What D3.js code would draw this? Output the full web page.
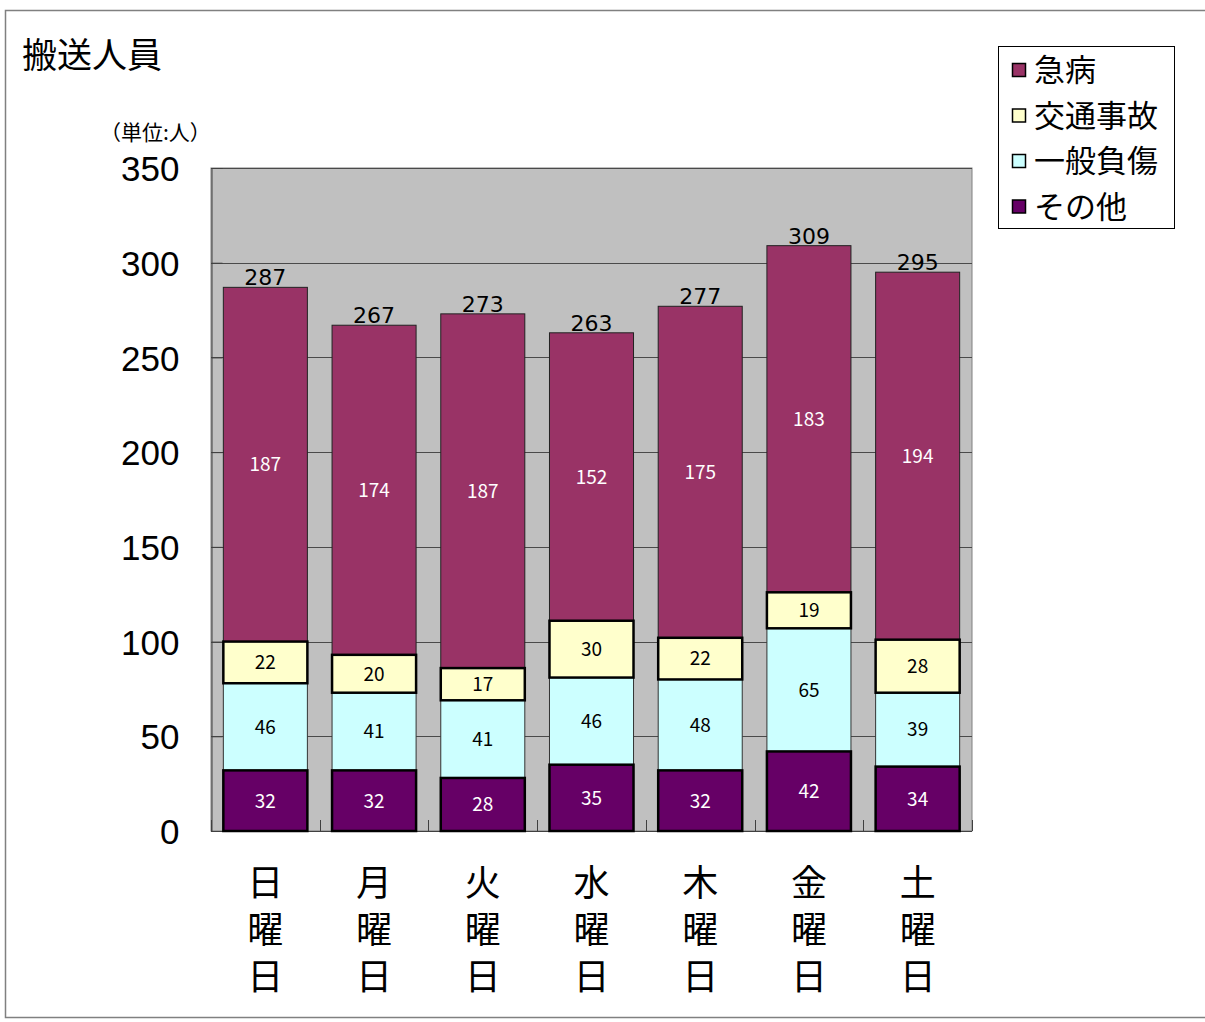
<!DOCTYPE html>
<html><head><meta charset="utf-8">
<script src="https://cdn.jsdelivr.net/npm/d3@7"></script>
<style>body{margin:0;background:#fff}svg{display:block}</style>
</head><body>
<script>
const days = ["日曜日","月曜日","火曜日","水曜日","木曜日","金曜日","土曜日"];
const sonota = [32,32,28,35,32,42,34];
const ippan = [46,41,41,46,48,65,39];
const kotsu = [22,20,17,30,22,19,28];
const kyubyo = [187,174,187,152,175,183,194];
const yTicks = [0,50,100,150,200,250,300,350];
const seriesNames = ["急病","交通事故","一般負傷","その他"];

const W=1205,H=1022;
const svg=d3.select("body").append("svg").attr("width",W).attr("height",H);
svg.append("rect").attr("x",5.5).attr("y",10.5).attr("width",1210).attr("height",1007).attr("fill","#fff").attr("stroke","#808080").attr("stroke-width",1.5);

const x=d3.scaleBand().domain(days).range([211,972]).paddingInner(0.227).paddingOuter(0.1135);
const y=d3.scaleLinear().domain([0,350]).range([831,168]);

svg.append("rect").attr("x",211).attr("y",168).attr("width",761).attr("height",663).attr("fill","#C0C0C0").attr("stroke","#808080");

// gridlines
svg.append("g").selectAll("line").data(yTicks.filter(d=>d>0)).join("line")
 .attr("x1",211).attr("x2",972).attr("y1",d=>Math.round(y(d))+0.5).attr("y2",d=>Math.round(y(d))+0.5)
 .attr("stroke","#4a4a4a").attr("stroke-width",1);

// y axis
const ya=svg.append("g").attr("transform","translate(211.5,0)").call(d3.axisLeft(y).tickValues(yTicks).tickSize(-11).tickPadding(32));
ya.select(".domain").attr("stroke","#404040");
ya.selectAll(".tick line").attr("stroke","#404040");
ya.selectAll("text").attr("font-family","Liberation Sans, Arial, sans-serif").attr("font-size",35).attr("fill","#000").attr("dy","0.36em");

// x axis baseline and ticks
svg.append("line").attr("x1",211).attr("x2",972).attr("y1",831.5).attr("y2",831.5).attr("stroke","#404040");
const bounds=days.map((d,i)=>x(d)-x.step()*x.paddingInner()/2).concat([972]);
svg.append("g").selectAll("line").data(bounds).join("line")
 .attr("x1",d=>Math.round(d)+0.5).attr("x2",d=>Math.round(d)+0.5).attr("y1",820).attr("y2",831)
 .attr("stroke","#404040");

const data=days.map((d,i)=>({day:d,s:sonota[i],p:ippan[i],k:kotsu[i],q:kyubyo[i]}));
const g=svg.append("g");
const segs=[
 {key:"q",base:d=>d.s+d.p+d.k,fill:"#993366",stroke:"#222",sw:1,tc:"#fff"},
 {key:"p",base:d=>d.s,fill:"#CCFFFF",stroke:"#333",sw:1,tc:"#000"},
 {key:"s",base:d=>0,fill:"#660066",stroke:"#000",sw:2.5,tc:"#fff"},
 {key:"k",base:d=>d.s+d.p,fill:"#FFFFCC",stroke:"#000",sw:2.5,tc:"#000"},
];
segs.forEach(sg=>{
 g.append("g").selectAll("rect").data(data).join("rect")
  .attr("x",d=>x(d.day)).attr("width",x.bandwidth())
  .attr("y",d=>y(sg.base(d)+d[sg.key])).attr("height",d=>y(sg.base(d))-y(sg.base(d)+d[sg.key]))
  .attr("fill",sg.fill).attr("stroke",sg.stroke).attr("stroke-width",sg.sw);
});
segs.forEach(sg=>{
 g.append("g").selectAll("text").data(data).join("text")
  .attr("x",d=>x(d.day)+x.bandwidth()/2)
  .attr("y",d=>(y(sg.base(d))+y(sg.base(d)+d[sg.key]))/2)
  .attr("dy","0.36em").attr("text-anchor","middle")
  .attr("font-family","'Noto Sans CJK JP', sans-serif").attr("font-size",19)
  .attr("fill",sg.tc).text(d=>d[sg.key]);
});
// totals
g.append("g").selectAll("text").data(data).join("text")
 .attr("x",d=>x(d.day)+x.bandwidth()/2)
 .attr("y",d=>y(d.s+d.p+d.k+d.q)-2)
 .attr("text-anchor","middle").attr("font-family","DejaVu Sans, sans-serif").attr("font-size",22)
 .attr("fill","#000").text(d=>d.s+d.p+d.k+d.q);

// x labels vertical
const xl=svg.append("g").selectAll("text").data(days).join("text")
 .attr("x",d=>x(d)+x.bandwidth()/2).attr("text-anchor","middle")
 .attr("font-family","'Noto Sans CJK JP', sans-serif").attr("font-size",36).attr("fill","#000");
xl.each(function(d){
 const t=d3.select(this);
 [...d].forEach((c,i)=>t.append("tspan").attr("x",x(d)+x.bandwidth()/2).attr("y",896+i*47).text(c));
});

// title
svg.append("text").attr("x",22).attr("y",68).attr("font-family","'Noto Sans CJK JP', sans-serif").attr("font-size",35).text("搬送人員");
svg.append("text").attr("x",100).attr("y",140).attr("font-family","'Noto Sans CJK JP', sans-serif").attr("font-size",21).text("（単位:人）");

// legend
svg.append("rect").attr("x",998.5).attr("y",46.5).attr("width",176).attr("height",182).attr("fill","#fff").attr("stroke","#000");
const legFill={"急病":"#993366","交通事故":"#FFFFCC","一般負傷":"#CCFFFF","その他":"#660066"};
const lg=svg.append("g").selectAll("g").data(seriesNames).join("g").attr("transform",(d,i)=>`translate(1012,${70+i*45.5})`);
lg.append("rect").attr("x",0.5).attr("y",-6.5).attr("width",13).attr("height",13).attr("fill",d=>legFill[d]).attr("stroke","#000").attr("stroke-width",1.5);
lg.append("text").attr("x",22).attr("dy","0.36em").attr("font-family","'Noto Sans CJK JP', sans-serif").attr("font-size",31).text(d=>d);
</script>
</body></html>
